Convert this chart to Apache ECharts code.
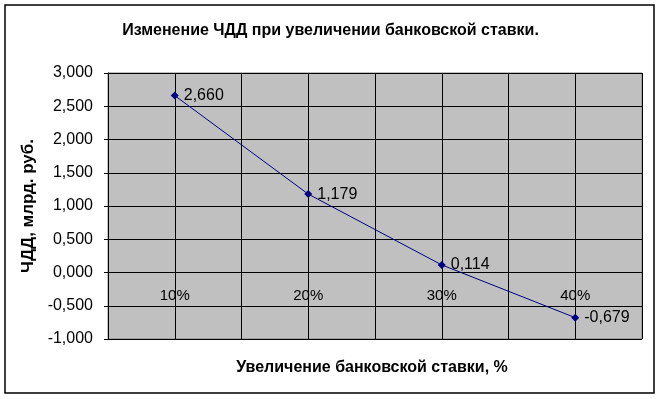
<!DOCTYPE html>
<html><head><meta charset="utf-8">
<script src="https://cdn.jsdelivr.net/npm/echarts@6/dist/echarts.min.js"></script>
<style>html,body{margin:0;padding:0;background:#fff}#c{width:661px;height:399px}</style>
</head><body><div id="c"></div>
<script>
const categories = ['10%', '20%', '30%', '40%'];
const npvValues = [2.660, 1.179, 0.114, -0.679];
const yTicks = [-1, -0.5, 0, 0.5, 1, 1.5, 2, 2.5, 3];

const fmt = v => v.toFixed(3).replace('.', ',');
const chart = echarts.init(document.getElementById('c'));
const font = 'Arial, "Liberation Sans", sans-serif';
chart.setOption({
  animation: false,
  backgroundColor: '#fff',
  graphic: [
    {type: 'rect', shape: {x: 5, y: 5, width: 649, height: 388}, style: {fill: 'none', stroke: '#000', lineWidth: 1.5}, z: 100},
    {type: 'text', x: 372, y: 368, style: {text: 'Увеличение банковской ставки, %', fontFamily: font, fontSize: 16, fontWeight: 'bold', fill: '#000', align: 'center', verticalAlign: 'middle'}}
  ],
  title: {text: 'Изменение ЧДД при увеличении банковской ставки.', left: 'center', top: 18,
    textStyle: {fontFamily: font, fontSize: 16, fontWeight: 'bold', color: '#000'}},
  grid: {left: 108, top: 73, width: 534, height: 266, backgroundColor: '#C0C0C0', show: true,
    borderColor: '#808080', borderWidth: 1, containLabel: false, outerBoundsMode: 'none'},
  xAxis: [{
    type: 'category', data: categories, boundaryGap: true, position: 'bottom', offset: -66.5,
    axisLine: {onZero: false, lineStyle: {color: '#000', width: 1}},
    axisTick: {show: false},
    axisLabel: {fontFamily: font, fontSize: 15, color: '#000', margin: 16},
    splitLine: {show: false}
  }, {
    type: 'value', min: 0, max: 8, interval: 1, position: 'top',
    axisLine: {show: false, onZero: false}, axisTick: {show: false}, axisLabel: {show: false},
    splitLine: {show: true, lineStyle: {color: '#000', width: 1}}
  }],
  yAxis: {
    type: 'value', min: -1, max: 3, interval: 0.5,
    axisLine: {show: true, onZero: false, lineStyle: {color: '#000'}},
    axisTick: {show: true, length: 4, lineStyle: {color: '#000'}},
    axisLabel: {fontFamily: font, fontSize: 16, color: '#000', margin: 15, formatter: v => fmt(v)},
    splitLine: {show: true, lineStyle: {color: '#000', width: 1}},
    name: 'ЧДД, млрд. руб.', nameLocation: 'middle', nameGap: 69, nameRotate: 90,
    nameTextStyle: {fontFamily: font, fontSize: 17, fontWeight: 'bold', color: '#000'}
  },
  series: [{
    type: 'line', xAxisIndex: 0, data: npvValues,
    symbol: 'diamond', symbolSize: 8,
    lineStyle: {color: '#000080', width: 1},
    itemStyle: {color: '#000080'},
    label: {show: true, position: 'right', distance: 5, fontFamily: font, fontSize: 16, color: '#000', formatter: p => fmt(p.value)},
    z: 10
  }, {
    type: 'line', data: [], xAxisIndex: 1
  }]
});
</script></body></html>
